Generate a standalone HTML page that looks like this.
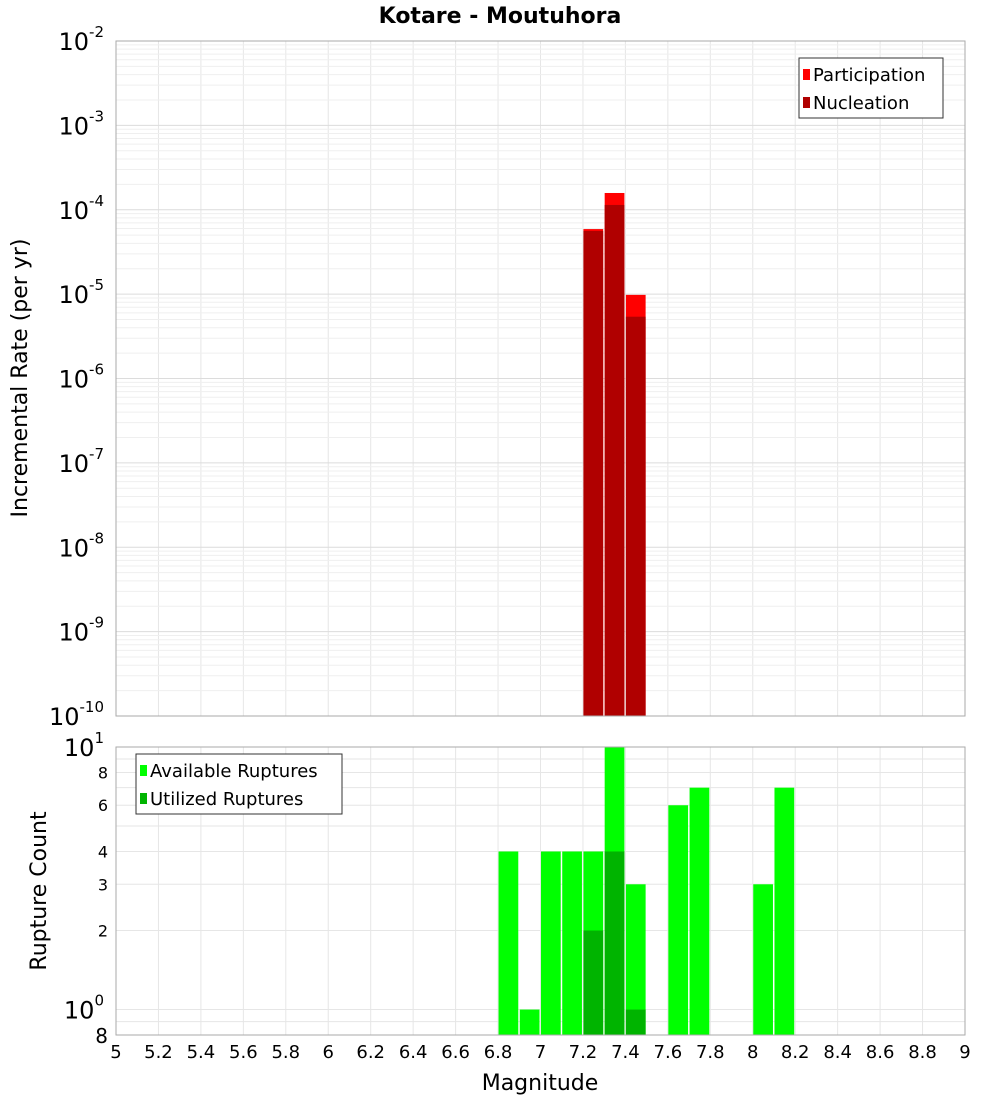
<!DOCTYPE html>
<html><head><meta charset="utf-8"><style>
body{margin:0;background:#fff}
svg text{font-family:"DejaVu Sans","Liberation Sans",sans-serif}
</style></head><body>
<svg id="c" width="1000" height="1100" xmlns="http://www.w3.org/2000/svg">
<text x="500" y="23" text-anchor="middle" font-size="22" font-weight="bold">Kotare - Moutuhora</text>
<g id="topg"></g><g id="botg"></g>
<text x="540" y="1090" text-anchor="middle" font-size="22">Magnitude</text>
<text transform="translate(27,378) rotate(-90)" text-anchor="middle" font-size="22">Incremental Rate (per yr)</text>
<text transform="translate(46,891) rotate(-90)" text-anchor="middle" font-size="22">Rupture Count</text>
</svg>
<script>
const partMags=[7.2,7.3,7.4];
const partVals=[5.9e-5,1.58e-4,9.8e-6];
const nuclMags=[7.2,7.3,7.4];
const nuclVals=[5.6e-5,1.14e-4,5.4e-6];
const availMags=[6.8,6.9,7.0,7.1,7.2,7.3,7.4,7.6,7.7,8.0,8.1];
const availVals=[4,1,4,4,4,10,3,6,7,3,7];
const utilMags=[7.2,7.3,7.4];
const utilVals=[2,4,1];
const xTicks=[5,5.2,5.4,5.6,5.8,6,6.2,6.4,6.6,6.8,7,7.2,7.4,7.6,7.8,8,8.2,8.4,8.6,8.8,9];
const topExps=[-2,-3,-4,-5,-6,-7,-8,-9,-10];
const botSmall=[8,6,4,3,2];

const NS="http://www.w3.org/2000/svg";
const svgEl=document.getElementById('c');
function mk(tag,attrs,parent){const e=document.createElementNS(NS,tag);for(const k in attrs)e.setAttribute(k,attrs[k]);(parent||svgEl).appendChild(e);return e;}
const X0=116,X1=965;
const xS=m=>X0+(m-5)/4*(X1-X0);
const T0=41,T1=716;
const yT=v=>T0+(-2-Math.log10(v))/8*(T1-T0);
const B0=747,B1=1035,BL=Math.log10(0.8);
const yB=v=>B0+(1-Math.log10(v))/(1-BL)*(B1-B0);
const gTop=document.getElementById('topg'),gBot=document.getElementById('botg');

for(const t of xTicks){
  let l=mk('line',{x1:xS(t),x2:xS(t),y1:T0,y2:T1,stroke:'#e6e6e6'},gTop);
  
  
  l=mk('line',{x1:xS(t),x2:xS(t),y1:B0,y2:B1,stroke:'#e6e6e6'},gBot);
  
  
}
for(let e=-10;e<-2;e++)for(let k=1;k<10;k++){
  const l=mk('line',{x1:X0,x2:X1,y1:yT(k*Math.pow(10,e)),y2:yT(k*Math.pow(10,e)),stroke:k==1?'#dcdcdc':'#efefef'},gTop);
  
  
}
for(const v of [0.8,0.9,1,2,3,4,5,6,7,8,9]){
  const l=mk('line',{x1:X0,x2:X1,y1:yB(v),y2:yB(v),stroke:'#e6e6e6'},gBot);
  
  
}
const bw=(X1-X0)/40;
function bar(g,m,y,yb,fill,name){const r=mk('rect',{x:xS(m)+0.5,y:y,width:bw-1.5,height:yb-y,fill:fill},g);

}
partMags.forEach((m,i)=>bar(gTop,m,yT(partVals[i]),T1,'#ff0000','participation-bar'));
nuclMags.forEach((m,i)=>bar(gTop,m,yT(nuclVals[i]),T1,'#b00000','nucleation-bar'));
availMags.forEach((m,i)=>bar(gBot,m,yB(availVals[i]),B1,'#00ff00','available-bar'));
utilMags.forEach((m,i)=>bar(gBot,m,yB(utilVals[i]),B1,'#00b400','utilized-bar'));
let f=mk('rect',{x:X0,y:T0,width:X1-X0,height:T1-T0,fill:'none',stroke:'#aaa'},gTop);


f=mk('rect',{x:X0,y:B0,width:X1-X0,height:B1-B0,fill:'none',stroke:'#aaa'},gBot);


for(const t of xTicks){const tx=mk('text',{x:xS(t),y:1058,'text-anchor':'middle','font-size':18},gBot);tx.textContent=String(t);

}
for(const e of topExps){
  const tx=mk('text',{x:104,y:yT(Math.pow(10,e))+9,'text-anchor':'end','font-size':24},gTop);
  
  
  tx.appendChild(document.createTextNode('10'));
  const s=mk('tspan',{dy:-13,'font-size':15},tx);s.textContent=String(e);
}
function powLab(v,e){const tx=mk('text',{x:104,y:yB(v)+9,'text-anchor':'end','font-size':24},gBot);


tx.appendChild(document.createTextNode('10'));const s=mk('tspan',{dy:-13,'font-size':15},tx);s.textContent=String(e);}
powLab(10,1);powLab(1,0);
for(const v of botSmall){const tx=mk('text',{x:108,y:yB(v)+6,'text-anchor':'end','font-size':16},gBot);tx.textContent=String(v);

}
let t8=mk('text',{x:108,y:B1+8,'text-anchor':'end','font-size':20},gBot);t8.textContent='8';


function legend(g,lx,ly,w,items,name){
  const L=mk('g',{},g);
  
  
  mk('rect',{x:lx,y:ly,width:w,height:60,fill:'#fff',stroke:'#333'},L);
  items.forEach((it,i)=>{
    const sw=mk('rect',{x:lx+4,y:ly+11+i*28,width:7,height:11,fill:it[1]},L);
    
    
    const tx=mk('text',{x:lx+14,y:ly+23+i*28,'font-size':18},L);tx.textContent=it[0];
    
    
  });
}
legend(gTop,799,58,144,[['Participation','#ff0000'],['Nucleation','#b00000']],'top-legend');
legend(gBot,136,754,206,[['Available Ruptures','#00ff00'],['Utilized Ruptures','#00b400']],'bottom-legend');
</script>
</body></html>
